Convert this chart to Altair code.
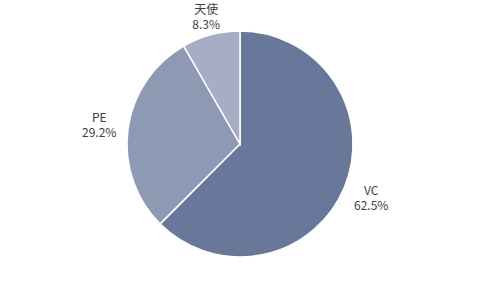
import altair as alt
import pandas as pd

categories = ["VC", "PE", "天使"]
shares = [62.5, 29.2, 8.3]
colors = ["#68789a", "#8e9ab4", "#a6adc5"]

df = pd.DataFrame({
    "cat": categories,
    "share": shares,
    "order": list(range(len(categories))),
})
df["label"] = [f"{c}\n{s:.1f}%" for c, s in zip(categories, shares)]

theta_scale = alt.Scale(domain=[0, 100], range=[0, 6.283185307179586])

pie = alt.Chart(df).mark_arc(outerRadius=113, stroke="white", strokeWidth=1.5).encode(
    theta=alt.Theta("share:Q", stack=True, scale=theta_scale),
    order=alt.Order("order:Q"),
    color=alt.Color("cat:N", scale=alt.Scale(domain=categories, range=colors), legend=None),
)

label_base = alt.Chart(df).transform_window(
    cum="sum(share)", sort=[alt.SortField("order")], frame=[None, 0]
).transform_calculate(mid="datum.cum - datum.share / 2")

label_radius = {"VC": 142, "PE": 142, "天使": 131}

layers = [pie]
for cat in categories:
    layers.append(
        label_base.transform_filter(alt.datum.cat == cat).mark_text(
            radius=label_radius[cat], lineBreak="\n", fontSize=12,
            font="Noto Sans CJK SC", color="#404040", lineHeight=14.5,
            align="center", baseline="middle", dy=-7,
        ).encode(
            theta=alt.Theta("mid:Q", scale=theta_scale),
            text="label:N",
        )
    )

chart = alt.layer(*layers).properties(
    width=480, height=288, padding=0,
    autosize=alt.AutoSizeParams(type="none"),
).configure_view(stroke=None)

chart.save("out.html", embed_options={"renderer": "svg", "actions": False})
